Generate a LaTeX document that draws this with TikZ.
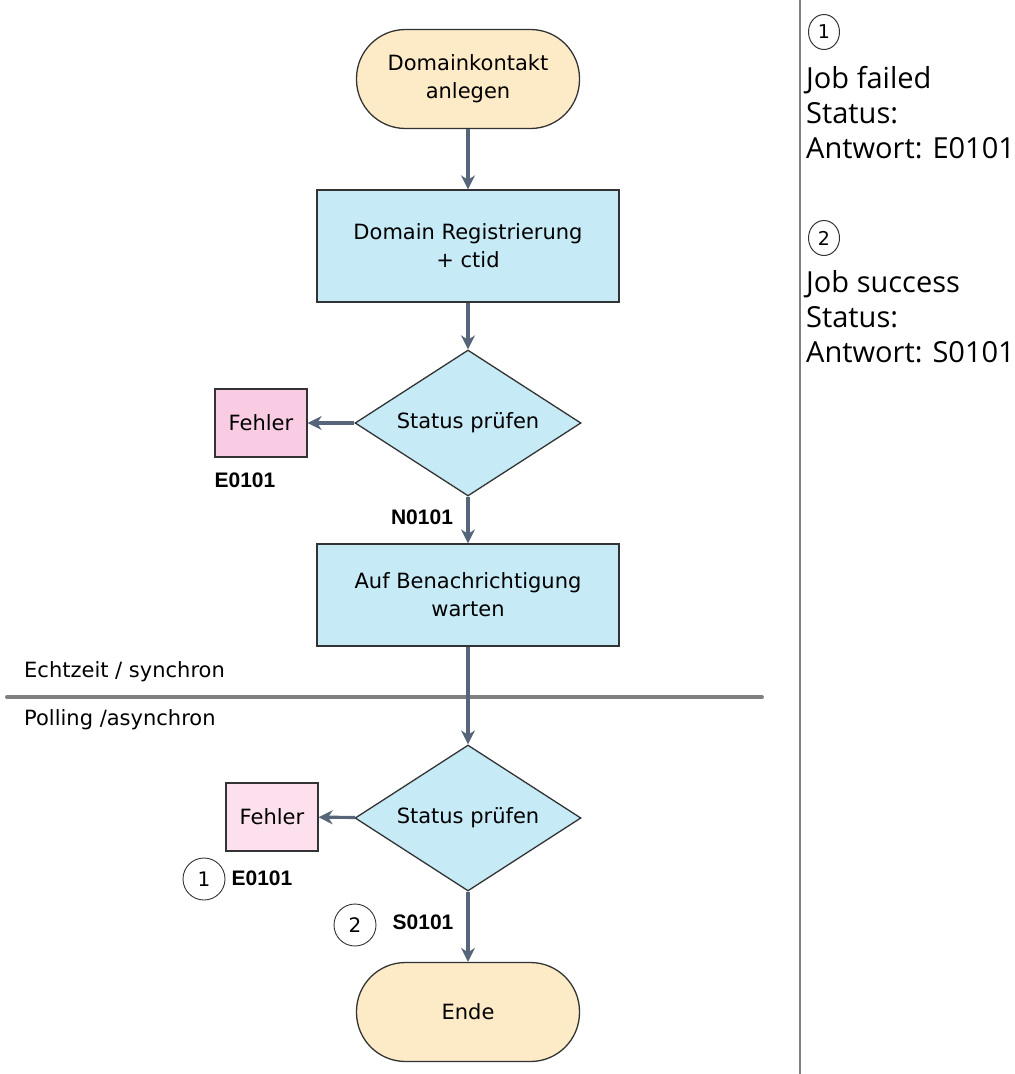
\documentclass[tikz,border=0pt]{standalone}
\usepackage{fontspec}
\setmainfont{DejaVu Sans}
\newfontfamily\lblfont{Liberation Sans}
\newfontfamily\sidefont{Open Sans}
\usetikzlibrary{shapes.geometric,arrows.meta}
\definecolor{termfill}{HTML}{FDEBC8}
\definecolor{procfill}{HTML}{C6EAF6}
\definecolor{errfillA}{HTML}{F9CCE3}
\definecolor{errfillB}{HTML}{FCE0EE}
\definecolor{outl}{HTML}{333333}
\definecolor{arrowc}{HTML}{56657A}
\definecolor{sepgray}{HTML}{808080}
\tikzset{
  base/.style={draw=outl, line width=1.3pt, font=\fontsize{21}{28}\selectfont, align=center, inner sep=0pt},
  term/.style={base, fill=termfill, rectangle, rounded corners=49pt, minimum width=223pt, minimum height=99pt},
  proc/.style={base, fill=procfill, rectangle, minimum width=302pt},
  decision/.style={base, fill=procfill, diamond, minimum width=226pt, minimum height=146pt, aspect=1.55},
  errbox/.style={base, rectangle, minimum width=92pt, minimum height=68pt},
  code/.style={font=\lblfont\bfseries\fontsize{21}{24}\selectfont, inner sep=0pt},
  num/.style={circle, draw=outl, line width=0.9pt, minimum size=42pt, inner sep=0pt, font=\fontsize{20}{22}\selectfont},
  snum/.style={ellipse, draw=outl, line width=1pt, minimum width=31pt, minimum height=35pt, inner sep=0pt, font=\fontsize{19}{20}\selectfont},
  flow/.style={draw=arrowc, line width=3.2pt, -{Stealth[length=14pt,width=14pt]}},
  sidetxt/.style={font=\sidefont\fontsize{29}{35}\selectfont, align=left, anchor=north west, inner sep=0pt},
  septxt/.style={font=\fontsize{21}{24}\selectfont, anchor=west, inner sep=0pt}
}
\begin{document}
\begin{tikzpicture}[x=1pt,y=-1pt]
\useasboundingbox (0,0) rectangle (1015,1074);
% main flow
\node[term] (start) at (468,79) {Domainkontakt\\anlegen};
\node[proc, minimum height=112pt] (reg) at (468,246) {Domain Registrierung\\+ ctid};
\node[decision] (d1) at (468,423) {Status prüfen};
\node[errbox, fill=errfillA] (f1) at (261,423) {Fehler};
\node[code] (e1) at (245,480) {E0101};
\node[code] (n1) at (422,517) {N0101};
\node[proc, minimum height=102pt] (wait) at (468,595) {Auf Benachrichtigung\\warten};
\node[decision] (d2) at (468,818) {Status prüfen};
\node[errbox, fill=errfillB] (f2) at (272,817) {Fehler};
\node[num] (c1) at (204,879) {1};
\node[code] (e2) at (262,878) {E0101};
\node[num] (c2) at (355,925) {2};
\node[code] (s1) at (423,922) {S0101};
\node[term] (ende) at (468,1012) {Ende};
% separator
\coordinate (sepL) at (7,697);
\coordinate (sepR) at (762,697);
\draw[sepgray, line width=4pt, line cap=round] (sepL) -- (sepR);
\node[septxt] (sync) at (24,672) {Echtzeit / synchron};
\node[septxt] (async) at (24,720) {Polling /asynchron};
% connectors
\draw[flow] (start) -- (reg);
\draw[flow] (reg) -- (d1);
\draw[flow] (d1) -- (f1);
\draw[flow] (d1) -- (wait);
\draw[flow] (wait) -- (d2);
\draw[flow] (d2) -- (f2);
\draw[flow] (d2) -- (ende);
% legend
\coordinate (vt) at (800,0);
\coordinate (vb) at (800,1074);
\draw[sepgray, line width=2pt] (vt) -- (vb);
\node[snum] (lc1) at (824,32) {1};
\node[sidetxt] (lt1) at (806,66) {Job failed\\Status:\\Antwort: E0101};
\node[snum] (lc2) at (824,238) {2};
\node[sidetxt] (lt2) at (806,270) {Job success\\Status:\\Antwort: S0101};
\end{tikzpicture}
\end{document}
